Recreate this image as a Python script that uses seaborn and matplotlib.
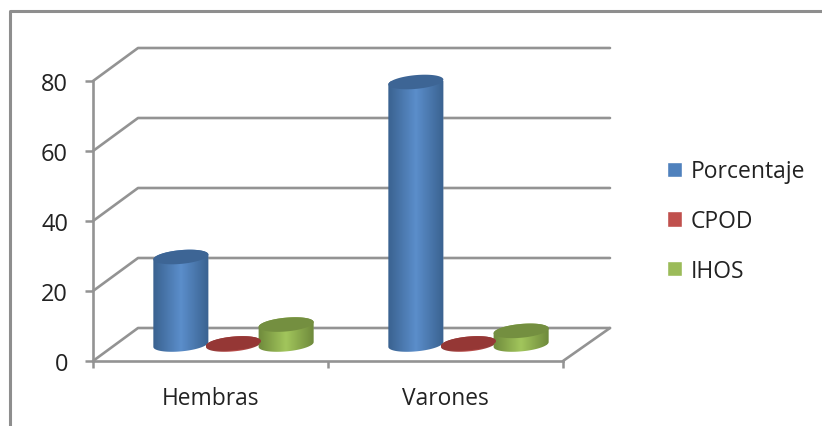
import numpy as np
import pandas as pd
import matplotlib
matplotlib.use("Agg")
import matplotlib.pyplot as plt
import seaborn as sns
from matplotlib.lines import Line2D
from matplotlib.patches import Polygon
from matplotlib.transforms import Affine2D, IdentityTransform

groups = ["Hembras", "Varones"]
series = ["Porcentaje", "CPOD", "IHOS"]
porcentaje = [25, 75]
cpod = [0.3, 0.3]
ihos = [5.7, 3.9]
y_ticks = [0, 20, 40, 60, 80]

colors = ["#4f81bd", "#c0504d", "#9bbb59"]
edge_colors = ["#3a6290", "#8a3a38", "#6f8a3c"]
mid_colors = ["#5b8ecb", "#c0504d", "#a2c65c"]
top_colors = ["#3d6595", "#953735", "#748f40"]
grid_color = "#939393"
text_color = "#222222"

W, H = 822, 427
DEPTH_X, DEPTH_Y = 45, 33          # receding floor, in pixels
BAR_DX, BAR_DY = 23, 16.5          # cylinders stand mid-way along the floor

sns.set_theme(style="white")
plt.rcParams["font.family"] = ["Open Sans", "DejaVu Sans"]
plt.rcParams["text.color"] = text_color

fig = plt.figure(figsize=(W / 100, H / 100), dpi=100, facecolor="white")
left, right, top, bottom = 93, 563, 82, 362
ax = fig.add_axes([left / W, 1 - bottom / H, (right - left) / W, (bottom - top) / H])

df = pd.DataFrame({
    "Grupo": groups * 3,
    "Indicador": np.repeat(series, 2),
    "Valor": porcentaje + cpod + ihos,
})
sns.barplot(data=df, x="Grupo", y="Valor", hue="Indicador", palette=colors,
            width=0.672, saturation=1, errorbar=None, ax=ax)

ax.set_xlim(-0.5, 1.5)
ax.set_ylim(0, 80)
ax.set_xlabel("")
ax.set_ylabel("")
ax.set_yticks(y_ticks)
ax.set_xticks([-0.5, 0.5, 1.5], minor=True)
ax.tick_params(axis="x", which="major", length=0, pad=18.3, labelsize=16.4, labelcolor=text_color)
ax.tick_params(axis="x", which="minor", bottom=True, length=5, width=1.8, color=grid_color)
ax.tick_params(axis="y", length=5.5, width=1.8, color=grid_color, left=True, pad=12.5,
               labelsize=17, labelcolor=text_color)
for side in ("top", "right"):
    ax.spines[side].set_visible(False)
for side in ("left", "bottom"):
    ax.spines[side].set_color(grid_color)
    ax.spines[side].set_linewidth(1.9)
ax.patch.set_alpha(0)
ax.set_axisbelow(True)


def to_px(x, y):
    """Axes data position to display pixels."""
    return ax.transData.transform((x, y))


# Back wall and floor: each gridline runs back from the y axis, then across.
for v in y_ticks:
    x0, y0 = to_px(-0.5, v)
    xb, yb = x0 + DEPTH_X, y0 + DEPTH_Y
    ax.add_line(Line2D([x0, xb, xb + right - left + 2], [y0, yb, yb],
                       transform=IdentityTransform(), color=grid_color, lw=1.9,
                       clip_on=False, zorder=0.5))
x1, y1 = to_px(1.5, 0)
ax.add_line(Line2D([x1, x1 + DEPTH_X + 2], [y1, y1 + DEPTH_Y], transform=IdentityTransform(),
                   color=grid_color, lw=1.9, clip_on=False, zorder=0.5))


def ellipse_pts(cx, cy, a, b, t):
    """Points on a slightly tilted ellipse, in display pixels."""
    return np.c_[cx + a * np.cos(t), cy + b * np.sin(t) + 2.4 * np.cos(t)]


# Shade every seaborn bar as a cylinder standing on the floor.
shift = Affine2D().translate(BAR_DX, BAR_DY)
cmaps = [matplotlib.colors.LinearSegmentedColormap.from_list("c", [e, m, e])
         for e, m in zip(edge_colors, mid_colors)]
for s, container in enumerate(ax.containers):
    for rect in container:
        rect.set_transform(ax.transData + shift)
        xc = rect.get_x() + rect.get_width() / 2
        value = rect.get_height()
        cx, y_base = to_px(xc, 0)
        _, y_top = to_px(xc, value)
        cx += BAR_DX
        y_base += BAR_DY
        y_top += BAR_DY
        a = (to_px(rect.get_x() + rect.get_width(), 0)[0] - to_px(rect.get_x(), 0)[0]) / 2 + 1.2
        b = 6.9

        lower = ellipse_pts(cx, y_base, a, b, np.linspace(np.pi, 2 * np.pi, 40))
        upper = ellipse_pts(cx, y_top, a, b, np.linspace(0, np.pi, 40))
        body = Polygon(np.r_[lower, upper], closed=True, transform=IdentityTransform(),
                       fc="none", ec="none", zorder=3)
        ax.add_patch(body)
        img = ax.imshow(np.linspace(0, 1, 64)[None, :], cmap=cmaps[s], aspect="auto",
                        extent=[rect.get_x() - 0.006, rect.get_x() + rect.get_width() + 0.006, -5, 80],
                        transform=ax.transData + shift, zorder=3, clip_on=True)
        img.set_clip_path(body)

        cap = Polygon(ellipse_pts(cx, y_top, a, b, np.linspace(0, 2 * np.pi, 80)), closed=True,
                      transform=IdentityTransform(), fc=top_colors[s], ec="none",
                      zorder=4 + s * 0.1, clip_on=False)
        ax.add_patch(cap)

ax.set_xlim(-0.5, 1.5)
ax.set_ylim(0, 80)

sns.move_legend(ax, "center left", bbox_to_anchor=(667 / W, 1 - 222 / H),
                bbox_transform=fig.transFigure, frameon=False, title=None,
                fontsize=16.5, labelspacing=1.12, handlelength=0.655, handleheight=0.655,
                handletextpad=0.36, borderpad=0, borderaxespad=0)

# Outer chart frame, running off the right and bottom of the canvas.
fig.add_artist(Line2D([9.5 / W, 9.5 / W, 1], [0, 1 - 11.5 / H, 1 - 11.5 / H],
                      color="#8e8e8e", lw=2.2))

fig.savefig("out.png", dpi=100)
